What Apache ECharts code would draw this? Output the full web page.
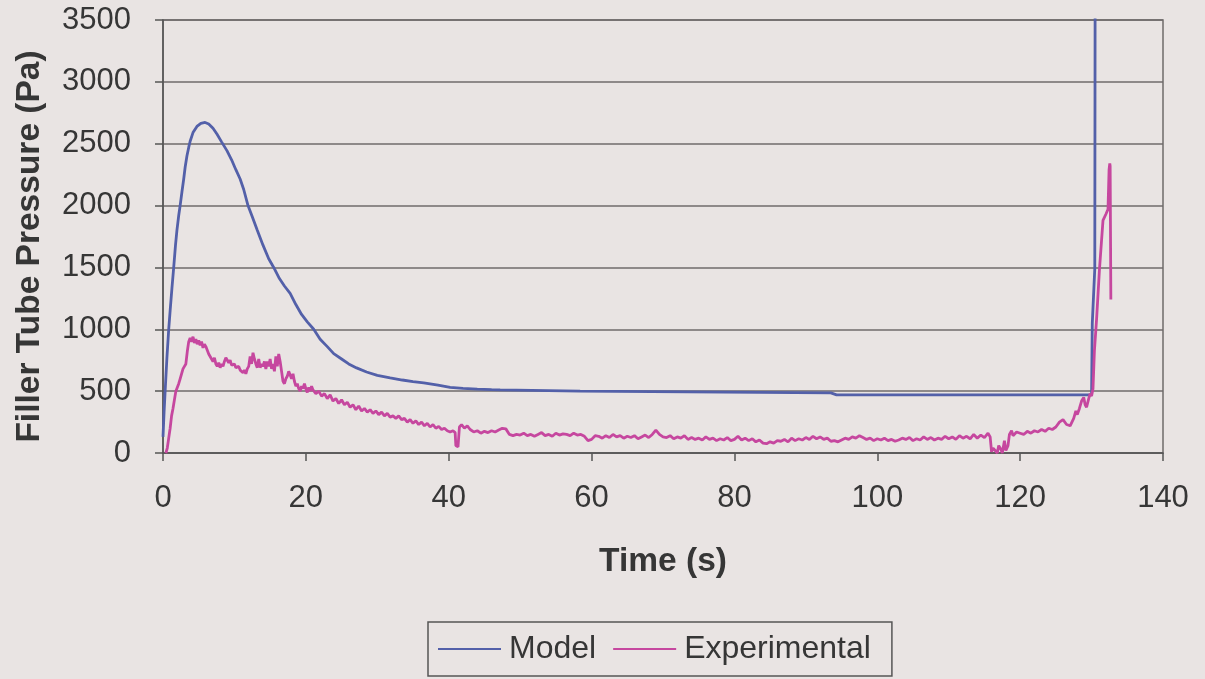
<!DOCTYPE html>
<html>
<head>
<meta charset="utf-8">
<script src="https://cdn.jsdelivr.net/npm/echarts@6/dist/echarts.min.js"></script>
<style>
  html, body { margin: 0; padding: 0; background: #e9e4e3; }
  #chart { width: 1205px; height: 679px; }
</style>
</head>
<body>
<div id="chart"></div>
<script>
// Filler tube pressure vs. time: model prediction and experimental trace.
const seriesNames = ['Model', 'Experimental'];
const xTicks = { min: 0, max: 140, step: 20 };
const yTicks = { min: 0, max: 3500, step: 500 };

// [time (s), pressure (Pa)]
const modelData = [
  [0,130],[0.15,330],[0.3,500],[0.55,770],[0.8,1000],[1.0,1150],[1.25,1330],[1.5,1500],
  [1.75,1680],[1.95,1800],[2.2,1920],[2.4,2000],[2.65,2110],[2.9,2215],[3.1,2310],[3.35,2400],
  [3.6,2470],[3.8,2520],[4.2,2590],[4.75,2640],[5.3,2665],[5.9,2672],[6.4,2660],[7.0,2625],
  [7.55,2578],[8.2,2515],[8.95,2444],[9.6,2370],[10.2,2290],[10.8,2215],[11.3,2130],[11.9,2000],
  [12.5,1910],[13.2,1800],[14.0,1680],[14.8,1570],[15.5,1500],[16.3,1410],[17.0,1350],[17.8,1290],
  [18.6,1200],[19.4,1120],[20.2,1060],[21.1,1000],[22.0,920],[23.0,860],[23.9,803],[25.0,760],
  [26.0,720],[27.1,688],[28.5,655],[30.0,628],[31.8,607],[33.5,590],[35.0,577],[36.5,567],
  [38.5,548],[40.2,530],[42.0,522],[44.0,516],[46.0,512],[47.2,510],[47.4,502],[58.4,500],
  [58.6,488],[93.5,486],[94.3,470],[130.0,470],[130.1,1050],[130.45,1490],[130.5,3800]
];

const experimentalData = [
  [0.4,0],[0.6,40],[0.8,120],[1.0,200],[1.2,300],[1.4,360],[1.6,430],[1.8,500],[2.0,530],
  [2.2,560],[2.4,600],[2.6,640],[2.8,680],[3.0,700],[3.2,720],[3.4,820],[3.6,900],[3.8,930],
  [4.0,900],[4.2,940],[4.4,890],[4.6,920],[4.8,880],[5.0,910],[5.2,870],[5.4,900],[5.6,850],
  [5.8,880],[6.0,860],[6.2,830],[6.4,800],[6.6,790],[6.8,760],[7.0,740],[7.2,770],[7.4,720],
  [7.6,700],[7.8,730],[8.0,690],[8.2,720],[8.4,700],[8.6,740],[8.8,770],[9.0,760],[9.2,730],
  [9.4,750],[9.6,710],[9.8,700],[10.0,720],[10.2,690],[10.4,680],[10.6,700],[10.8,670],
  [11.0,680],[11.2,650],[11.4,670],[11.6,640],[11.8,680],[12.0,700],[12.2,780],[12.4,720],
  [12.6,810],[12.8,760],[13.0,720],[13.2,690],[13.4,760],[13.6,690],[13.8,720],[14.0,700],
  [14.2,740],[14.4,680],[14.6,740],[14.8,700],[15.0,760],[15.2,680],[15.4,720],[15.6,660],
  [15.8,780],[16.0,700],[16.2,800],[16.4,740],[16.6,660],[16.8,580],[17.0,560],[17.2,600],
  [17.4,620],[17.6,660],[17.8,650],[18.0,600],[18.2,640],[18.4,580],[18.6,540],[18.8,560],
  [19.0,520],[19.2,500],[19.4,540],[19.6,520],[19.8,560],[20.0,520],[20.2,490],[20.4,530],
  [20.6,500],[20.8,540],[21.0,510],[21.4,480],[21.8,500],[22.2,460],[22.6,480],[23.0,440],
  [23.4,470],[23.8,420],[24.2,440],[24.6,400],[25.0,430],[25.4,390],[25.8,410],[26.2,370],
  [26.6,390],[27.0,350],[27.4,380],[27.8,340],[28.2,360],[28.6,330],[29.0,350],[29.4,320],
  [29.8,340],[30.2,310],[30.6,330],[31.0,300],[31.4,320],[31.8,290],[32.2,300],[32.6,280],
  [33.0,300],[33.4,270],[33.8,280],[34.2,250],[34.6,270],[35.0,240],[35.4,260],[35.8,230],
  [36.2,250],[36.6,220],[37.0,240],[37.4,210],[37.8,230],[38.2,200],[38.6,215],[39.0,190],
  [39.4,200],[39.8,180],[40.2,170],[40.6,180],[40.9,165],[41.0,60],[41.3,50],[41.5,210],
  [41.8,230],[42.2,200],[42.6,220],[43.0,190],[43.5,170],[44.0,180],[44.5,160],[45.0,175],
  [45.5,165],[46.0,180],[46.5,170],[47.0,185],[47.5,200],[48.0,195],[48.5,150],[49.0,140],
  [49.5,150],[50.0,145],[50.5,160],[51.0,140],[51.5,150],[52.0,135],[52.5,150],[53.0,165],
  [53.5,140],[54.0,150],[54.5,135],[55.0,160],[55.5,145],[56.0,155],[56.5,150],[57.0,140],
  [57.5,160],[58.0,145],[58.5,150],[59.0,135],[59.5,100],[60.0,110],[60.5,140],[61.0,135],
  [61.5,120],[62.0,140],[62.5,125],[63.0,150],[63.5,130],[64.0,140],[64.5,120],[65.0,135],
  [65.5,125],[66.0,140],[66.5,115],[67.0,130],[67.5,145],[68.0,125],[68.5,150],[69.0,185],
  [69.5,150],[70.0,130],[70.5,125],[71.0,140],[71.5,115],[72.0,130],[72.5,120],[73.0,140],
  [73.5,110],[74.0,125],[74.5,110],[75.0,120],[75.5,105],[76.0,130],[76.5,110],[77.0,120],
  [77.5,100],[78.0,115],[78.5,105],[79.0,125],[79.5,100],[80.0,110],[80.5,135],[81.0,105],
  [81.5,120],[82.0,100],[82.5,115],[83.0,90],[83.5,105],[84.0,80],[84.5,75],[85.0,90],
  [85.5,80],[86.0,100],[86.5,95],[87.0,110],[87.5,90],[88.0,120],[88.5,100],[89.0,115],
  [89.5,105],[90.0,125],[90.5,110],[91.0,135],[91.5,115],[92.0,130],[92.5,110],[93.0,120],
  [93.5,95],[94.0,100],[94.5,90],[95.0,105],[95.5,120],[96.0,110],[96.5,130],[97.0,120],
  [97.5,140],[98.0,125],[98.5,110],[99.0,120],[99.5,100],[100.0,115],[100.5,105],[101.0,120],
  [101.5,100],[102.0,110],[102.5,95],[103.0,105],[103.5,120],[104.0,110],[104.5,125],[105.0,100],
  [105.5,115],[106.0,105],[106.5,130],[107.0,110],[107.5,125],[108.0,105],[108.5,120],[109.0,110],
  [109.5,135],[110.0,115],[110.5,130],[111.0,110],[111.5,140],[112.0,120],[112.5,135],[113.0,115],
  [113.5,150],[114.0,120],[114.5,145],[115.0,125],[115.5,160],[115.8,130],[116.0,10],[116.2,40],
  [116.5,20],[116.8,0],[117.0,60],[117.3,30],[117.5,0],[117.8,100],[118.0,20],[118.3,60],
  [118.5,150],[118.8,180],[119.0,140],[119.5,170],[120.0,160],[120.5,150],[121.0,175],[121.5,160],
  [122.0,180],[122.5,170],[123.0,190],[123.5,175],[124.0,200],[124.5,190],[125.0,210],[125.5,250],
  [126.0,270],[126.5,230],[127.0,220],[127.5,280],[127.8,340],[128.0,310],[128.3,360],[128.6,420],
  [128.9,450],[129.1,390],[129.3,370],[129.6,440],[129.8,480],[130.0,460],[130.2,520],[130.4,830],
  [130.7,1080],[131.1,1480],[131.6,1880],[132.0,1930],[132.3,1970],[132.45,2290],[132.55,2340],
  [132.6,2320],[132.7,1240]
];

const colors = { model: '#5360a9', experimental: '#c6479f' };
const textColor = '#363636';
const ruleColor = '#6f6b6b';
const fontFamily = '"Liberation Sans", Arial, sans-serif';

const chart = echarts.init(document.getElementById('chart'), null, { renderer: 'canvas' });
chart.setOption({
  backgroundColor: '#e9e4e3',
  animation: false,
  textStyle: { fontFamily: fontFamily, color: textColor },
  grid: {
    left: 163, right: 42, top: 20, bottom: 226,
    show: true, borderColor: ruleColor, borderWidth: 1.5, backgroundColor: 'transparent'
  },
  legend: {
    data: seriesNames.map(n => ({ name: n, icon: 'rect' })),
    left: 428, top: 622,
    padding: [11, 21, 11, 10],
    itemWidth: 63, itemHeight: 2, itemGap: 17,
    borderColor: '#555', borderWidth: 1.5,
    textStyle: { fontSize: 32, color: textColor, fontFamily: fontFamily, padding: [0, 0, 0, 3] }
  },
  xAxis: {
    type: 'value',
    min: xTicks.min, max: xTicks.max, interval: xTicks.step,
    name: 'Time (s)', nameLocation: 'middle', nameGap: 92,
    nameTextStyle: { fontSize: 33.5, fontWeight: 'bold', color: textColor, fontFamily: fontFamily },
    axisLine: { show: true, onZero: false, lineStyle: { color: '#555', width: 1.5 } },
    axisTick: { show: true, inside: false, length: 8, lineStyle: { color: '#555', width: 1.5 } },
    axisLabel: { fontSize: 31, color: textColor, margin: 30, fontFamily: fontFamily },
    splitLine: { show: false }
  },
  yAxis: {
    type: 'value',
    min: yTicks.min, max: yTicks.max, interval: yTicks.step,
    name: 'Filler Tube Pressure (Pa)', nameLocation: 'middle', nameGap: 116,
    nameTextStyle: {
      fontSize: 33.5, fontWeight: 'bold', color: textColor, fontFamily: fontFamily,
      padding: [0, 20, 0, 0]
    },
    axisLine: { show: true, lineStyle: { color: '#555', width: 1.5 } },
    axisTick: { show: true, inside: false, length: 8, lineStyle: { color: '#555', width: 1.5 } },
    axisLabel: {
      fontSize: 31, color: textColor, margin: 32, fontFamily: fontFamily,
      formatter: v => String(v)
    },
    splitLine: { show: true, lineStyle: { color: ruleColor, width: 1.5 } }
  },
  series: [
    {
      name: seriesNames[0], type: 'line', data: modelData,
      symbol: 'none', showSymbol: false, clip: true,
      lineStyle: { color: colors.model, width: 2.8 },
      itemStyle: { color: colors.model }
    },
    {
      name: seriesNames[1], type: 'line', data: experimentalData,
      symbol: 'none', showSymbol: false, clip: true,
      lineStyle: { color: colors.experimental, width: 2.8 },
      itemStyle: { color: colors.experimental }
    }
  ]
});
</script>
</body>
</html>
